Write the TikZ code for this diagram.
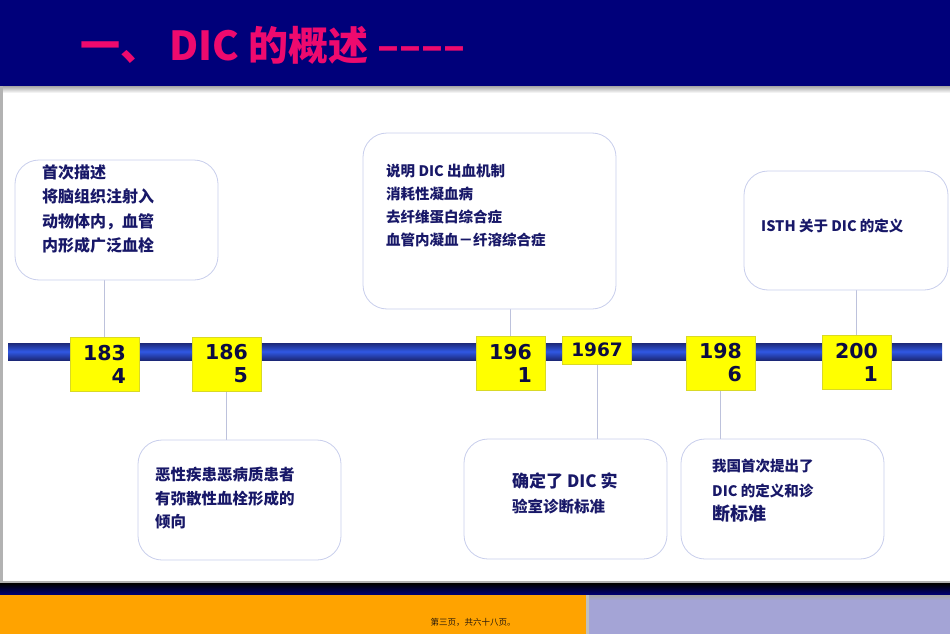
\documentclass[tikz,border=0pt]{standalone}
\usepackage{fontspec}
\setmainfont{DejaVu Sans}
\newfontfamily\cjk{Noto Sans CJK SC}
\usetikzlibrary{positioning, calc, backgrounds}
\definecolor{marinho}{RGB}{0, 0, 122}
\definecolor{rosa}{RGB}{238, 10, 110}
\definecolor{amarelo}{RGB}{255, 255, 0}
\definecolor{laranja}{RGB}{255, 163, 0}
\definecolor{lilas}{RGB}{164, 164, 214}
\definecolor{textoazul}{RGB}{24, 24, 104}
\definecolor{anotexto}{RGB}{12, 12, 66}
\definecolor{bordanota}{RGB}{200, 206, 236}
\definecolor{barraescura}{RGB}{28, 40, 120}
\definecolor{barraclara}{RGB}{48, 88, 228}
\tikzset{
  ano/.style={
    draw=amarelo!70!gray, fill=amarelo, line width=0.8pt,
    minimum width=69pt, minimum height=54pt, inner sep=0pt,
    align=right, text=anotexto, font=\bfseries\fontsize{20.5}{23}\selectfont
  },
  nota/.style={
    draw=bordanota, line width=0.8pt, fill=white, rounded corners=24pt,
    minimum width=203pt, minimum height=120pt
  },
  texto/.style n args={2}{
    anchor=north west, align=left, inner sep=0pt, text=textoazul,
    font=\cjk\bfseries\fontsize{#1}{#2}\selectfont
  },
  ligacao/.style={draw=bordanota!85!gray, line width=0.8pt},
}

\begin{document}
\begin{tikzpicture}[x=1pt, y=-1pt]
\useasboundingbox (0,0) rectangle (950,634);

% fundo do slide
\fill[marinho] (0,0) rectangle (950,86);
\shade[top color=gray!70, bottom color=white] (0,86) rectangle (950,93);
\fill[gray!60] (0,86) rectangle (3,583);
\fill[gray!60] (0,581) rectangle (950,583.5);
\shade[top color=black, bottom color=marinho] (0,583.5) rectangle (950,595);
\fill[laranja] (0,595) rectangle (586,634);
\fill[gray!50] (586,595) rectangle (589,634);
\shade[top color=gray!70, bottom color=lilas] (589,595) rectangle (950,600);
\fill[lilas] (589,600) rectangle (950,634);

\node[anchor=west, inner sep=0pt, text=rosa, font=\cjk\bfseries\fontsize{40}{48}\selectfont]
  (titulo) at (80,45) {一、 DIC 的概述 ––––};

% linha do tempo
\shade[top color=barraescura, bottom color=barraescura, middle color=barraclara]
  (8,343) rectangle (942,360);

\node[ano] (a1834) at (104.5,364) {183\\4};
\node[ano] (a1865) at (226.5,364) {186\\5};
\node[ano] (a1961) at (510.5,363) {196\\1};
\node[ano, minimum height=28pt, font=\bfseries\fontsize{18.5}{22}\selectfont] (a1967) at (597,350) {1967};
\node[ano] (a1986) at (720.5,363) {198\\6};
\node[ano] (a2001) at (856.5,362) {200\\1};

% notas
\node[nota] (n1834) at (116.5,220) {};
\node[nota] (n1865) at (239.5,500) {};
\node[nota, minimum width=253pt, minimum height=176pt] (n1961) at (489.5,221) {};
\node[nota] (n1967) at (565.5,499) {};
\node[nota] (n1986) at (782.5,499) {};
\node[nota, minimum width=204pt, minimum height=119pt] (n2001) at (846,230.5) {};

\node[texto={16}{24.5}] (t1834) at (42,164)
  {首次描述\\将脑组织注射入\\动物体内，血管\\内形成广泛血栓};
\node[texto={15.5}{23.5}] (t1865) at (155,467)
  {恶性疾患恶病质患者\\有弥散性血栓形成的\\倾向};
\node[texto={14.5}{23}] (t1961) at (386,164)
  {说明 DIC 出血机制\\消耗性凝血病\\去纤维蛋白综合症\\血管内凝血－纤溶综合症};
\node[texto={15.5}{25}] (t1967) at (512,472)
  {{\fontsize{17}{25}\selectfont 确定了 DIC 实}\\验室诊断标准};
\node[texto={14.5}{24.5}] (t1986) at (712,459)
  {我国首次提出了\\DIC 的定义和诊\\{\fontsize{18}{25}\selectfont 断标准}};
\node[texto={14.5}{22}] (t2001) at (761,219)
  {ISTH 关于 DIC 的定义};

% ligacoes
\begin{scope}[on background layer]
\draw[ligacao] (a1834.north) -- (a1834.north |- n1834.south);
\draw[ligacao] (a1865.south) -- (a1865.south |- n1865.north);
\draw[ligacao] (a1961.north) -- (a1961.north |- n1961.south);
\draw[ligacao] (a1967.south) -- (a1967.south |- n1967.north);
\draw[ligacao] (a1986.south) -- (a1986.south |- n1986.north);
\draw[ligacao] (a2001.north) -- (a2001.north |- n2001.south);
\end{scope}

\node[text=black!80!brown, font=\cjk\fontsize{8.5}{10}\selectfont] (rodape) at (473,622)
  {第三页，共六十八页。};
\end{tikzpicture}
\end{document}
